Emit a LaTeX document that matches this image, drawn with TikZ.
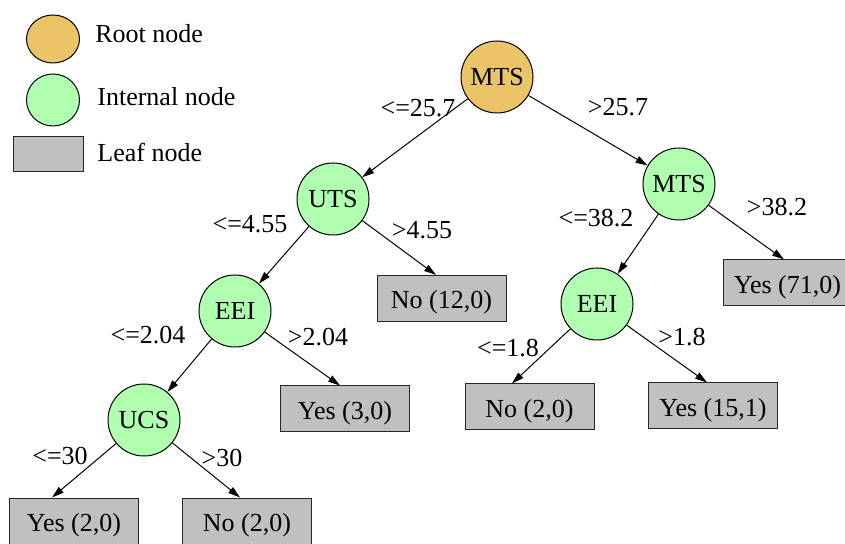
\documentclass[tikz,border=0pt]{standalone}
\usepackage{fontspec}
\setmainfont{Liberation Serif}
\usetikzlibrary{arrows.meta,shapes.geometric}
\definecolor{rootcol}{RGB}{236,196,104}
\definecolor{innercol}{RGB}{176,255,176}
\definecolor{leafcol}{RGB}{192,192,192}
\begin{document}
\begin{tikzpicture}[x=0.5pt,y=-0.5pt,
	every node/.style={font=\fontsize{13}{15}\selectfont},
	rootnode/.style={circle,draw,line width=0.5pt,fill=rootcol,minimum size=36pt,inner sep=0pt},
	innernode/.style={circle,draw,line width=0.5pt,fill=innercol,minimum size=36pt,inner sep=0pt},
	leafnode/.style={rectangle,draw=black!85,line width=0.5pt,fill=leafcol,minimum width=64.5pt,minimum height=23pt,inner sep=0pt,text height=12pt,text depth=1.5pt},
	cond/.style={inner sep=0pt},
	arr/.style={line width=0.5pt,-{Triangle[length=6pt,width=3.6pt]}}]
	\useasboundingbox (0,0) rectangle (845,544);
	\clip (0,0) rectangle (845,544);
	% legend
	\node[ellipse,draw,line width=0.5pt,fill=rootcol,minimum width=26.5pt,minimum height=24pt,inner sep=0pt] (keyroot) at (53,39) {};
	\node[ellipse,draw,line width=0.5pt,fill=innercol,minimum width=26.5pt,minimum height=26pt,inner sep=0pt] (keyinner) at (53,100) {};
	\node[leafnode,minimum width=35pt,minimum height=17.5pt] (keyleaf) at (48,154.5) {};
	\node[cond,anchor=west] (txtroot) at (95,34) {Root node};
	\node[cond,anchor=west] (txtinner) at (97,97) {Internal node};
	\node[cond,anchor=west] (txtleaf) at (97,152) {Leaf node};
	% tree
	\node[rootnode] (mts) at (497,77) {MTS};
	\node[innernode] (uts) at (333,199) {UTS};
	\node[innernode] (mtsb) at (679,184) {MTS};
	\node[innernode] (eei) at (235,311) {EEI};
	\node[innernode] (eeib) at (597,304) {EEI};
	\node[innernode] (ucs) at (144,420) {UCS};
	\node[leafnode] (no12) at (441.5,298.5) {No (12,0)};
	\node[leafnode] (yes71) at (787.5,283) {Yes (71,0)};
	\node[leafnode] (yes3) at (345,409) {Yes (3,0)};
	\node[leafnode] (no2a) at (529.5,407) {No (2,0)};
	\node[leafnode] (yes15) at (713,406) {Yes (15,1)};
	\node[leafnode] (yes2) at (74,521) {Yes (2,0)};
	\node[leafnode] (no2b) at (247,521) {No (2,0)};
	% conditions
	\node[cond] (c1) at (418,108) {<=25.7};
	\node[cond] (c2) at (618,107) {>25.7};
	\node[cond] (c3) at (250,224) {<=4.55};
	\node[cond] (c4) at (422,230) {>4.55};
	\node[cond] (c5) at (596,218) {<=38.2};
	\node[cond] (c6) at (777,207) {>38.2};
	\node[cond] (c7) at (148,335) {<=2.04};
	\node[cond] (c8) at (318,337) {>2.04};
	\node[cond] (c9) at (508,348) {<=1.8};
	\node[cond] (c10) at (682,337) {>1.8};
	\node[cond] (c11) at (60,456) {<=30};
	\node[cond] (c12) at (222,458) {>30};
	% edges
	\draw[arr] (mts) -- (uts);
	\draw[arr] (mts) -- (mtsb);
	\draw[arr] (uts) -- (eei);
	\draw[arr] (uts) -- ([xshift=-2.75pt]no12.north);
	\draw[arr] (mtsb) -- (eeib);
	\draw[arr] (mtsb) -- ([xshift=-1.75pt]yes71.north);
	\draw[arr] (eei) -- (ucs);
	\draw[arr] (eei) -- ([xshift=-2.5pt]yes3.north);
	\draw[arr] (eeib) -- ([xshift=-8.75pt]no2a.north);
	\draw[arr] (eeib) -- ([xshift=-3pt]yes15.north);
	\draw[arr] (ucs) -- ([xshift=-11pt]yes2.north);
	\draw[arr] (ucs) -- ([xshift=-3.5pt]no2b.north);
\end{tikzpicture}
\end{document}
